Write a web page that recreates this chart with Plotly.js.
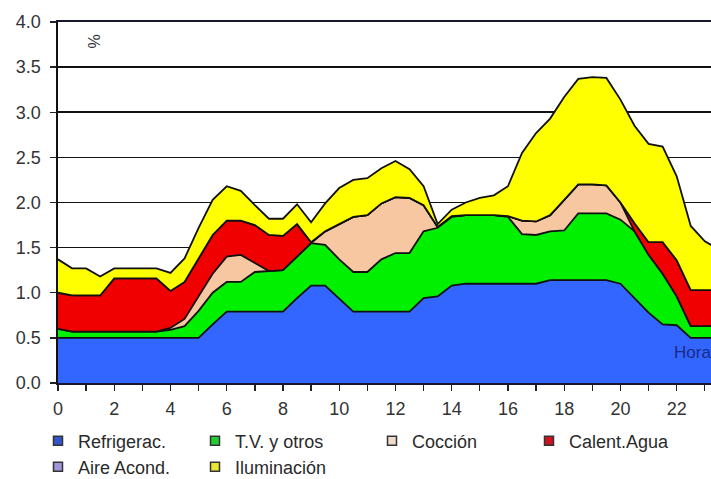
<!DOCTYPE html>
<html>
<head>
<meta charset="utf-8">
<script src="https://cdn.plot.ly/plotly-3.0.1.min.js"></script>
<style>html,body{margin:0;padding:0;background:#fff;}#chart{width:711px;height:479px;}</style>
</head>
<body>
<div id="chart"></div>
<script>
// Hour of day (half-hour steps)
const hours = [0,0.5,1,1.5,2,2.5,3,3.5,4,4.5,5,5.5,6,6.5,7,7.5,8,8.5,9,9.5,10,10.5,11,11.5,
               12,12.5,13,13.5,14,14.5,15,15.5,16,16.5,17,17.5,18,18.5,19,19.5,20,20.5,21,21.5,22,22.5,23,23.5];

// Series values (%), stacked in this order
const refrigerac = [0.50,0.50,0.50,0.50,0.50,0.50,0.50,0.50,0.50,0.50,0.50,0.65,0.79,0.79,0.79,0.79,0.79,0.94,1.08,1.08,0.93,0.79,0.79,0.79,
                    0.79,0.79,0.94,0.96,1.08,1.10,1.10,1.10,1.10,1.10,1.10,1.14,1.14,1.14,1.14,1.14,1.10,0.94,0.78,0.65,0.64,0.50,0.50,0.50];
const tvOtros    = [0.10,0.07,0.07,0.07,0.07,0.07,0.07,0.07,0.09,0.13,0.30,0.35,0.33,0.33,0.44,0.45,0.46,0.46,0.47,0.45,0.44,0.44,0.44,0.58,
                    0.65,0.65,0.74,0.76,0.76,0.76,0.76,0.76,0.74,0.55,0.54,0.54,0.55,0.74,0.74,0.74,0.71,0.74,0.64,0.56,0.32,0.13,0.13,0.13];
const coccion    = [0,0,0,0,0,0,0,0,0.02,0.08,0.16,0.21,0.28,0.30,0.10,0,0,0,0,0.15,0.39,0.61,0.63,0.62,
                    0.62,0.61,0.29,0.01,0.01,0,0,0,0.01,0.15,0.15,0.18,0.34,0.32,0.32,0.31,0.19,0,0,0,0,0,0,0];
const calentAgua = [0.40,0.40,0.40,0.40,0.59,0.59,0.59,0.59,0.41,0.41,0.42,0.43,0.40,0.38,0.42,0.40,0.38,0.36,0.01,0,0,0,0,0,
                    0,0,0,0,0,0,0,0,0,0,0,0,0,0,0,0,0,0.09,0.14,0.35,0.40,0.40,0.40,0.40];
const aireAcond  = [0,0,0,0,0,0,0,0,0,0,0,0,0,0,0,0,0,0,0,0,0,0,0,0,
                    0,0,0,0,0,0,0,0,0,0,0,0,0,0,0,0,0,0,0,0,0,0,0,0];
const iluminacion= [0.37,0.30,0.30,0.21,0.11,0.11,0.11,0.11,0.20,0.26,0.34,0.39,0.38,0.33,0.22,0.18,0.19,0.22,0.22,0.31,0.40,0.41,0.41,0.39,
                    0.40,0.32,0.21,0.03,0.07,0.14,0.19,0.22,0.33,0.75,0.98,1.07,1.14,1.17,1.19,1.19,1.14,1.08,1.09,1.06,0.93,0.71,0.54,0.45];

const seriesNames = ['Refrigerac.','T.V. y otros','Cocción','Calent.Agua','Aire Acond.','Iluminación'];
const seriesValues = [refrigerac, tvOtros, coccion, calentAgua, aireAcond, iluminacion];
const fillColors = ['#3366ff','#00f000','#f7c7a1','#f00000','#9999ff','#ffff00'];
const legendColors = ['#3355cc','#22cc33','#eedcc8','#cc1122','#a095d8','#e8e830'];
const legendIds = ['legend','legend2','legend3','legend4','legend5','legend6'];

const traces = [];
seriesValues.forEach((vals, i) => {
  traces.push({
    type: 'scatter', mode: 'lines', x: hours, y: vals, name: seriesNames[i],
    stackgroup: 'consumo', fillcolor: fillColors[i],
    line: {color: '#111', width: 1.8, shape: 'linear'},
    showlegend: false, hoverinfo: 'skip'
  });
});
seriesNames.forEach((nm, i) => {
  traces.push({
    type: 'scatter', mode: 'markers', x: [null], y: [null], name: nm,
    marker: {symbol: 'square', size: 9, color: legendColors[i], line: {color: '#333', width: 1.5}},
    legend: legendIds[i], showlegend: true, hoverinfo: 'skip'
  });
});

const W = 711, H = 479;
const legendPos = [[38, 441], [195, 441], [372, 441], [529, 441], [38, 467], [195, 467]];
const font = 'Liberation Sans, Arial, sans-serif';

const layout = {
  width: W, height: H,
  margin: {l: 58, r: 0, t: 22, b: 96, autoexpand: false},
  paper_bgcolor: '#fff', plot_bgcolor: '#fff',
  font: {family: font, color: '#333', size: 16},
  showlegend: true,
  xaxis: {
    range: [0, 23.22], dtick: 2, tick0: 0, ticks: 'outside', ticklen: 6, tickwidth: 1.3, tickcolor: '#222',
    showgrid: false, zeroline: false, showline: true, mirror: true, linecolor: '#161630', linewidth: 1.8,
    tickfont: {size: 18, color: '#333'}, ticklabelstandoff: 3, automargin: false,
    minor: {dtick: 1, ticks: 'outside', ticklen: 6, tickwidth: 1.3, tickcolor: '#222', showgrid: false}
  },
  yaxis: {
    range: [0, 4], dtick: 0.5, tickformat: '.1f', ticks: 'outside', ticklen: 6, tickwidth: 1.3, tickcolor: '#222',
    showgrid: true, gridcolor: '#111', gridwidth: 1.6, zeroline: false,
    showline: true, linecolor: '#111', linewidth: 1.6, automargin: false,
    tickfont: {size: 18, color: '#333'}, ticklabelstandoff: 6
  },
  annotations: [
    {text: '%', x: 1.3, y: 3.78, xref: 'x', yref: 'y', showarrow: false, textangle: -90,
     font: {size: 16, color: '#333', family: font}},
    {text: 'Hora', x: 21.83, y: 0.34, xref: 'x', yref: 'y', xanchor: 'left', showarrow: false,
     font: {size: 17, color: '#1a2a88', family: font}}
  ]
};
legendIds.forEach((id, i) => {
  layout[id] = {
    x: legendPos[i][0] / W, y: 1 - legendPos[i][1] / H, xref: 'container', yref: 'container',
    xanchor: 'left', yanchor: 'middle', bgcolor: 'rgba(0,0,0,0)', borderwidth: 0,
    font: {size: 18, color: '#2a2a2a', family: font}
  };
});

Plotly.newPlot('chart', traces, layout, {staticPlot: true, displayModeBar: false});
</script>
</body>
</html>
